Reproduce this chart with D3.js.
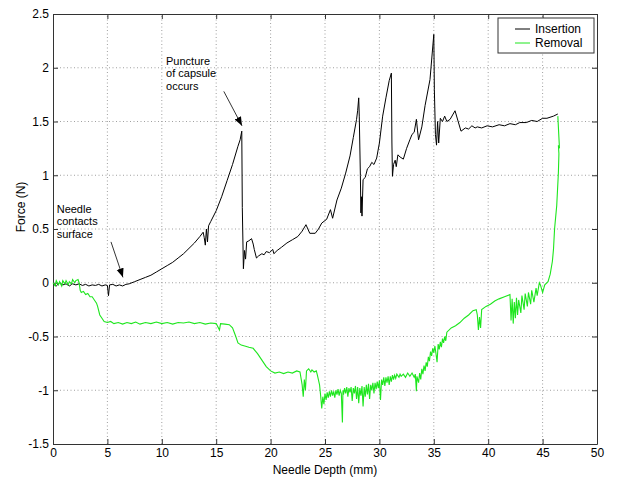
<!DOCTYPE html>
<html><head><meta charset="utf-8">
<script src="https://cdn.jsdelivr.net/npm/d3@7"></script>
<style>
body{margin:0;background:#fff;}
svg{display:block;font-family:"Liberation Sans",Arial,sans-serif;}
</style></head>
<body>
<svg id="chart" width="617" height="478"></svg>
<script>
// ---------- DATA ----------
const xTicks = [0,5,10,15,20,25,30,35,40,45,50];
const yTicks = [-1.5,-1,-0.5,0,0.5,1,1.5,2,2.5];
const seriesNames = ["Insertion","Removal"];

const insertion = [
[0.0,-0.01],[0.3,-0.03],[0.6,0.0],[0.9,-0.02],[1.2,-0.01],[1.5,-0.03],[1.8,-0.01],[2.1,-0.02],
[2.4,-0.01],[2.7,-0.025],[3.0,-0.015],[3.3,-0.03],[3.6,-0.02],[3.9,-0.025],[4.2,-0.015],[4.5,-0.03],
[4.8,-0.02],[5.0,-0.025],[5.1,-0.12],[5.2,-0.02],[5.5,-0.015],[5.8,-0.03],[6.1,-0.02],[6.4,-0.03],
[6.7,-0.015],[7.0,-0.01],[7.5,0.01],[8.0,0.03],[8.5,0.05],[9.0,0.07],[9.5,0.1],[10.0,0.13],
[10.5,0.16],[11.0,0.19],[11.5,0.23],[12.0,0.27],[12.5,0.32],[13.0,0.37],[13.5,0.43],[13.8,0.47],
[13.9,0.42],[14.0,0.35],[14.1,0.5],[14.2,0.38],[14.3,0.53],[14.5,0.57],[15.0,0.67],[15.5,0.8],
[16.0,0.95],[16.5,1.1],[17.0,1.27],[17.2,1.33],[17.35,1.41],[17.4,0.7],[17.5,0.13],[17.6,0.3],
[17.7,0.22],[17.8,0.38],[18.0,0.39],[18.25,0.41],[18.4,0.36],[18.5,0.31],[18.7,0.23],[18.9,0.25],
[19.2,0.27],[19.4,0.26],[19.6,0.29],[19.9,0.28],[20.2,0.31],[20.3,0.27],[20.6,0.3],[21.0,0.33],
[21.5,0.37],[22.0,0.40],[22.5,0.43],[22.9,0.48],[23.25,0.54],[23.6,0.46],[24.1,0.46],[24.4,0.5],
[24.7,0.555],[25.15,0.59],[25.5,0.68],[25.7,0.6],[26.1,0.77],[26.5,0.88],[26.9,1.02],[27.3,1.18],
[27.6,1.35],[27.9,1.52],[28.0,1.6],[28.1,1.72],[28.15,1.55],[28.25,1.0],[28.3,0.65],[28.35,0.8],
[28.4,0.62],[28.5,0.96],[28.7,0.98],[28.9,1.06],[29.1,1.08],[29.3,1.12],[29.5,1.1],[29.75,1.16],
[30.0,1.3],[30.3,1.55],[30.6,1.72],[30.9,1.88],[31.1,1.95],[31.15,1.3],[31.2,0.99],[31.3,1.1],
[31.45,1.14],[31.55,1.08],[31.7,1.19],[31.9,1.17],[32.2,1.15],[32.5,1.25],[32.8,1.33],[33.0,1.38],
[33.2,1.4],[33.4,1.52],[33.5,1.42],[33.6,1.33],[33.9,1.45],[34.2,1.65],[34.65,1.89],[35.0,2.31],
[35.05,1.8],[35.15,1.38],[35.25,1.28],[35.35,1.5],[35.45,1.3],[35.6,1.53],[35.8,1.5],[36.0,1.55],
[36.2,1.5],[36.5,1.52],[36.95,1.6],[37.5,1.41],[37.9,1.44],[38.2,1.43],[38.5,1.46],[38.8,1.44],
[39.0,1.45],[39.4,1.44],[39.9,1.46],[40.4,1.45],[41.0,1.47],[41.5,1.46],[42.0,1.48],[42.5,1.47],
[42.9,1.49],[43.5,1.49],[44.0,1.51],[44.5,1.5],[45.0,1.53],[45.4,1.53],[46.0,1.55],[46.4,1.57]
];

const removal = [
[0.0,0.0],[0.2,-0.03],[0.3,0.02],[0.5,-0.02],[0.6,0.01],[0.8,-0.03],[0.9,0.02],[1.1,-0.01],
[1.2,0.02],[1.4,-0.02],[1.5,0.01],[1.7,-0.01],[1.8,0.03],[2.0,0.0],[2.1,0.02],[2.3,0.03],
[2.4,0.0],[2.5,-0.07],[2.6,-0.09],[2.8,-0.08],[3.0,-0.11],[3.2,-0.10],[3.4,-0.13],[3.6,-0.13],
[3.8,-0.16],[4.0,-0.19],[4.1,-0.22],[4.3,-0.30],[4.5,-0.33],[4.7,-0.36],[5.0,-0.37],[5.3,-0.36],
[5.6,-0.38],[6.0,-0.37],[6.4,-0.385],[6.8,-0.37],[7.2,-0.38],[7.6,-0.365],[8.0,-0.385],[8.5,-0.37],
[9.0,-0.38],[9.5,-0.365],[10.0,-0.38],[10.5,-0.37],[11.0,-0.385],[11.5,-0.37],[12.0,-0.375],[12.5,-0.365],
[13.0,-0.38],[13.5,-0.37],[14.0,-0.385],[14.5,-0.375],[15.0,-0.38],[15.3,-0.44],[15.4,-0.38],[15.8,-0.385],
[16.2,-0.39],[16.5,-0.42],[16.8,-0.50],[17.0,-0.56],[17.3,-0.58],[17.7,-0.59],[18.0,-0.60],[18.4,-0.61],
[18.8,-0.66],[19.2,-0.72],[19.6,-0.78],[20.0,-0.82],[20.4,-0.84],[20.8,-0.83],[21.2,-0.845],[21.6,-0.83],
[22.0,-0.84],[22.4,-0.82],[22.7,-0.83],[22.9,-0.95],[23.0,-1.06],[23.1,-0.9],[23.2,-1.0],[23.3,-0.82],
[23.5,-0.80],[23.7,-0.83],[23.8,-0.81],[24.0,-0.83],[24.2,-0.82],[24.3,-0.86],[24.5,-0.95],[24.6,-1.05],
[24.7,-1.17],[24.8,-1.06],[24.9,-1.13],[25.0,-1.03],[25.1,-1.09],[25.2,-1.02],[25.3,-1.07],[25.4,-1.01],
[25.5,-1.06],[25.6,-1.0],[25.7,-1.05],[25.8,-1.01],[25.9,-1.07],[26.0,-1.0],[26.1,-1.04],[26.2,-0.99],
[26.3,-1.05],[26.4,-1.0],[26.5,-1.03],[26.6,-1.3],[26.65,-1.0],[26.7,-1.04],[26.8,-0.98],[26.9,-1.03],
[27.0,-0.97],[27.1,-1.06],[27.2,-0.98],[27.3,-1.02],[27.4,-0.97],[27.5,-1.1],[27.6,-0.98],[27.7,-1.03],
[27.8,-0.96],[27.9,-1.08],[28.0,-0.97],[28.1,-1.12],[28.2,-0.98],[28.3,-1.05],[28.4,-0.96],[28.5,-1.15],
[28.6,-0.97],[28.7,-1.06],[28.8,-0.95],[28.9,-1.04],[29.0,-0.94],[29.1,-1.08],[29.2,-0.95],[29.3,-1.0],
[29.4,-0.93],[29.5,-1.03],[29.6,-0.93],[29.7,-0.99],[29.8,-0.92],[29.9,-0.98],[30.0,-0.91],[30.1,-1.09],
[30.2,-0.9],[30.3,-0.95],[30.4,-0.88],[30.5,-0.96],[30.6,-0.88],[30.7,-0.93],[30.8,-0.87],[30.9,-0.95],
[31.0,-0.87],[31.1,-0.92],[31.2,-0.86],[31.3,-0.9],[31.4,-0.86],[31.5,-0.89],[31.6,-0.85],[31.8,-0.88],
[31.9,-0.85],[32.0,-0.87],[32.2,-0.85],[32.4,-0.88],[32.6,-0.84],[32.8,-0.87],[33.0,-0.84],[33.2,-0.88],
[33.3,-0.85],[33.4,-1.01],[33.45,-0.87],[33.6,-0.93],[33.7,-0.84],[33.8,-0.9],[33.9,-0.8],[34.0,-0.85],
[34.1,-0.77],[34.2,-0.82],[34.3,-0.74],[34.4,-0.78],[34.5,-0.69],[34.6,-0.73],[34.7,-0.64],[34.8,-0.68],
[34.9,-0.61],[35.0,-0.65],[35.1,-0.59],[35.2,-0.66],[35.3,-0.74],[35.4,-0.57],[35.5,-0.62],[35.6,-0.55],
[35.7,-0.6],[35.8,-0.52],[35.9,-0.56],[36.0,-0.5],[36.1,-0.54],[36.2,-0.46],[36.6,-0.42],[37.0,-0.40],
[37.4,-0.37],[37.8,-0.33],[38.2,-0.30],[38.6,-0.26],[38.9,-0.25],[39.0,-0.30],[39.1,-0.44],[39.2,-0.32],
[39.3,-0.42],[39.4,-0.25],[39.8,-0.22],[40.2,-0.20],[40.6,-0.17],[41.0,-0.15],[41.5,-0.13],[42.0,-0.11],
[42.1,-0.35],[42.2,-0.15],[42.3,-0.38],[42.4,-0.18],[42.5,-0.33],[42.6,-0.14],[42.7,-0.30],[42.8,-0.16],
[43.0,-0.28],[43.1,-0.12],[43.3,-0.25],[43.4,-0.10],[43.6,-0.22],[43.7,-0.09],[43.9,-0.20],[44.0,-0.07],
[44.2,-0.18],[44.4,-0.05],[44.5,-0.12],[44.7,0.0],[44.8,-0.02],[45.0,-0.09],[45.2,-0.02],[45.5,0.01],
[45.7,0.08],[45.9,0.2],[46.0,0.31],[46.1,0.5],[46.3,0.72],[46.45,1.02],[46.5,1.2],[46.45,1.28],
[46.55,1.25],[46.4,1.55]
];

const annotations = [
  {lines:["Needle","contacts","surface"], tx:0.34, ty:0.65, from:[5.33,0.38], to:[6.43,0.05]},
  {lines:["Puncture","of capsule","occurs"], tx:10.39, ty:2.03, from:[15.7,1.78], to:[17.37,1.46]}
];

// ---------- CHART ----------
const W = 617, H = 478;
const m = {top:14, right:20, bottom:34, left:53};
const svg = d3.select("#chart");
const x = d3.scaleLinear().domain([0,50]).range([m.left, W-m.right]);
const y = d3.scaleLinear().domain([-1.5,2.5]).range([H-m.bottom, m.top]);
const axisColor = "#333";

// gridlines
const grid = svg.append("g");
grid.selectAll("line.gx").data(xTicks.slice(1,-1)).join("line")
  .attr("x1",d=>x(d)).attr("x2",d=>x(d)).attr("y1",y(-1.5)).attr("y2",y(2.5))
  .attr("stroke","#888").attr("stroke-width",0.8).attr("stroke-dasharray","1,2.5");
grid.selectAll("line.gy").data(yTicks.slice(1,-1)).join("line")
  .attr("y1",d=>y(d)).attr("y2",d=>y(d)).attr("x1",x(0)).attr("x2",x(50))
  .attr("stroke","#888").attr("stroke-width",0.8).attr("stroke-dasharray","1,2.5");

// axes
const fmt = d => String(d);
const ax = svg.append("g").attr("transform",`translate(0,${y(-1.5)})`)
  .call(d3.axisBottom(x).tickValues(xTicks).tickFormat(fmt).tickSizeInner(-5).tickSizeOuter(0).tickPadding(4));
const ay = svg.append("g").attr("transform",`translate(${x(0)},0)`)
  .call(d3.axisLeft(y).tickValues(yTicks).tickFormat(fmt).tickSizeInner(-5).tickSizeOuter(0).tickPadding(4));
const at = svg.append("g").attr("transform",`translate(0,${y(2.5)})`)
  .call(d3.axisTop(x).tickValues(xTicks).tickFormat("").tickSizeInner(-5).tickSizeOuter(0));
const ar = svg.append("g").attr("transform",`translate(${x(50)},0)`)
  .call(d3.axisRight(y).tickValues(yTicks).tickFormat("").tickSizeInner(-5).tickSizeOuter(0));
[ax,ay,at,ar].forEach(g=>{
  g.selectAll("path,line").attr("stroke",axisColor);
  g.selectAll("text").attr("fill","#000").style("font-size","12px").style("font-family",'"Liberation Sans",Arial,sans-serif');
});

// lines
const line = d3.line().x(d=>x(d[0])).y(d=>y(d[1]));
svg.append("path").datum(insertion).attr("d",line).attr("fill","none")
  .attr("stroke","#000").attr("stroke-width",1);
svg.append("path").datum(removal).attr("d",line).attr("fill","none")
  .attr("stroke","#1ee61e").attr("stroke-width",1.1);

// annotations
const defs = svg.append("defs");
defs.append("marker").attr("id","arr").attr("viewBox","0 0 10 10").attr("refX",10).attr("refY",5)
  .attr("markerWidth",9).attr("markerHeight",9).attr("markerUnits","userSpaceOnUse").attr("orient","auto")
  .append("path").attr("d","M0,1 L10,5 L0,9 Z").attr("fill","#000");
annotations.forEach(a=>{
  const t = svg.append("text").attr("x",x(a.tx)).attr("y",y(a.ty))
    .style("font-size","11px").attr("fill","#000");
  a.lines.forEach((l,i)=>t.append("tspan").attr("x",x(a.tx)).attr("dy",i?12.5:0).text(l));
  svg.append("line").attr("x1",x(a.from[0])).attr("y1",y(a.from[1]))
    .attr("x2",x(a.to[0])).attr("y2",y(a.to[1]))
    .attr("stroke","#000").attr("stroke-width",0.8).attr("marker-end","url(#arr)");
});

// axis labels
svg.append("text").attr("x",(x(0)+x(50))/2).attr("y",474).attr("text-anchor","middle")
  .style("font-size","12px").text("Needle Depth (mm)");
svg.append("text").attr("transform","translate(25,207) rotate(-90)").attr("text-anchor","middle")
  .style("font-size","12px").text("Force (N)");

// legend
const lg = svg.append("g");
lg.append("rect").attr("x",498).attr("y",18).attr("width",96).attr("height",35)
  .attr("fill","#fff").attr("stroke",axisColor).attr("stroke-width",1);
const colors = ["#000","#1ee61e"];
seriesNames.forEach((n,i)=>{
  const yy = 29 + i*14;
  lg.append("line").attr("x1",515).attr("x2",530).attr("y1",yy).attr("y2",yy)
    .attr("stroke",colors[i]).attr("stroke-width",1);
  lg.append("text").attr("x",535).attr("y",yy+4).style("font-size","12px").text(n);
});
</script>
</body></html>
